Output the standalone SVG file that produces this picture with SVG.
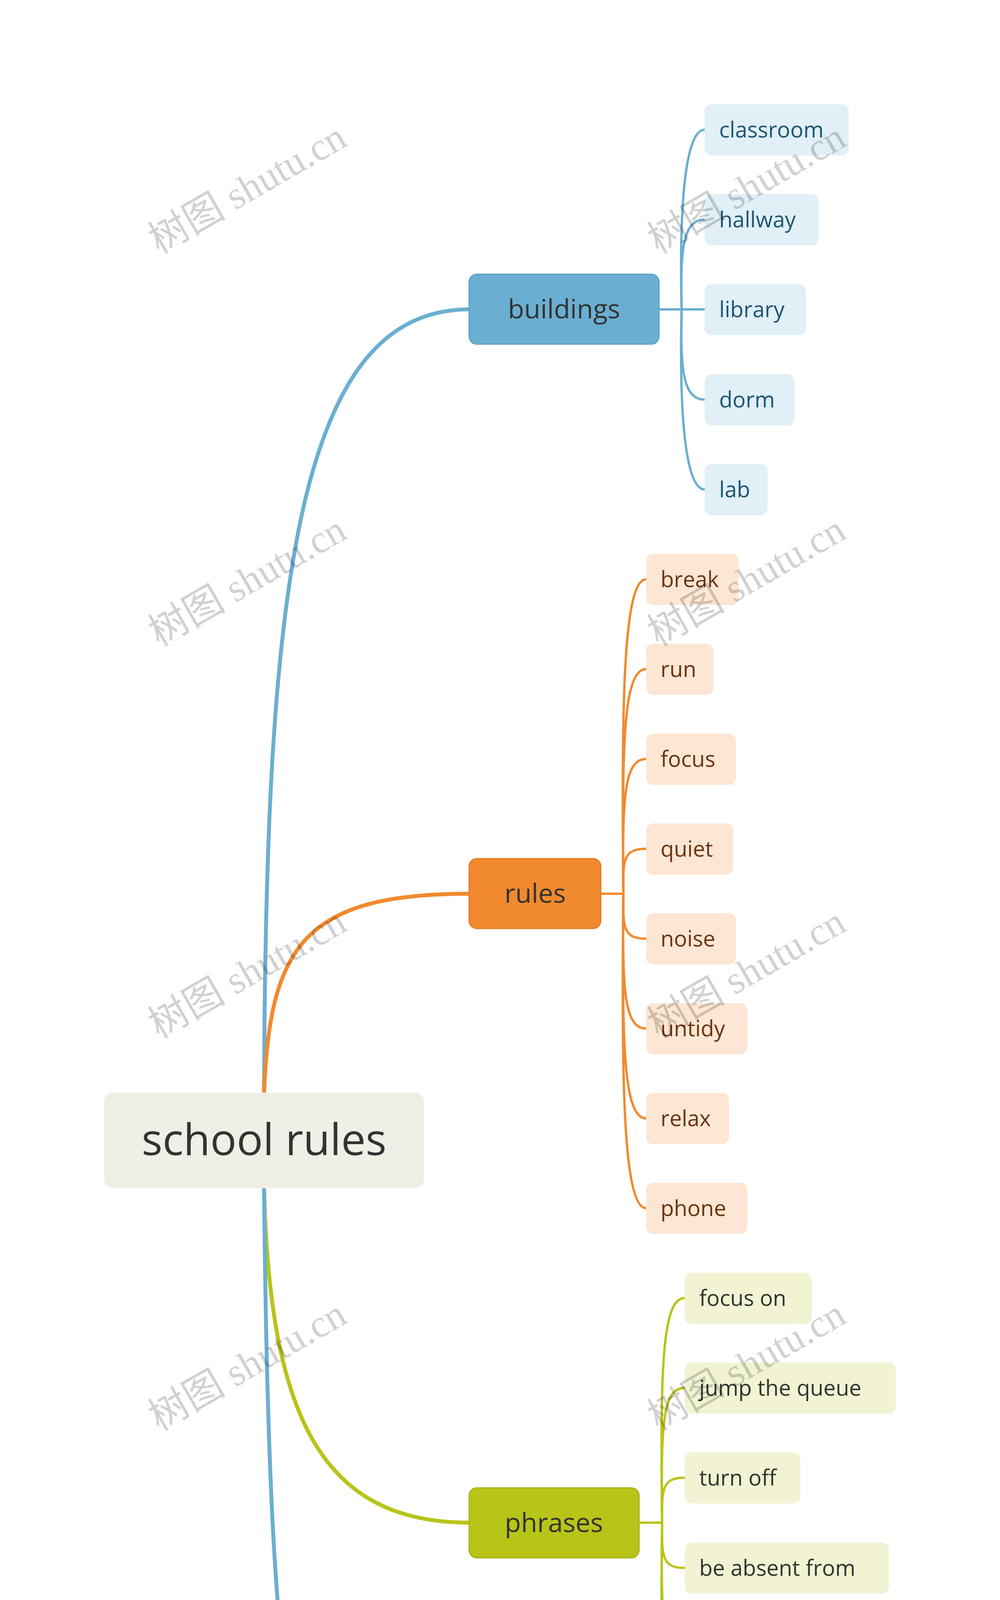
<svg xmlns="http://www.w3.org/2000/svg" width="2560" height="5727" viewBox="0 0 2560 5727">
<style>
.wm{font-family:"Liberation Serif","Noto Sans CJK SC",serif;font-size:100px;fill:#000;fill-opacity:0.18}
.t{font-family:"Open Sans","Noto Sans",sans-serif}
.lf{font-size:56px}
.mn{font-size:68px;fill:#333}
.c{fill:none;stroke-linecap:round}
.b{stroke:#6aafd1}.o{stroke:#f18a2e}.g{stroke:#b8c418}
.main{stroke-width:10}.sub{stroke-width:6}
.lb{fill:#e1eff6}.tb{fill:#1d5573}
.lo{fill:#fde6d4}.to{fill:#6a3410}
.lg{fill:#f1f3d3}.tg{fill:#333}
</style>
<rect width="2560" height="5727" fill="#fff"/>
<g id="connectors">
<path class="c b main" d="M676 2800 C680 1500 760 792 1201 792"/>
<path class="c o main" d="M676 2800 C690 2420 780 2288 1201 2288"/>
<path class="c g main" d="M676 3040 C690 3620 820 3898 1201 3898"/>
<path class="c b main" d="M676 3040 C690 4500 760 5048 1201 5048"/>
<g class="c b sub">
<path d="M1687 792 H1745"/>
<path d="M1745 792 C1740 600 1745 332 1804 332"/>
<path d="M1745 792 C1742 650 1745 562 1804 562"/>
<path d="M1745 792 H1804"/>
<path d="M1745 792 C1742 934 1745 1023 1804 1023"/>
<path d="M1745 792 C1740 984 1745 1253 1804 1253"/>
</g>
<g class="c o sub">
<path d="M1538 2288 H1596"/>
<path d="M1596 2288 C1590 1800 1596 1483 1654 1483"/>
<path d="M1596 2288 C1592 1900 1596 1713 1654 1713"/>
<path d="M1596 2288 C1593 2050 1596 1943 1654 1943"/>
<path d="M1596 2288 C1594 2200 1596 2173 1654 2173"/>
<path d="M1596 2288 C1594 2376 1596 2403 1654 2403"/>
<path d="M1596 2288 C1593 2526 1596 2633 1654 2633"/>
<path d="M1596 2288 C1592 2676 1596 2863 1654 2863"/>
<path d="M1596 2288 C1590 2776 1596 3093 1654 3093"/>
</g>
<g class="c g sub">
<path d="M1636 3898 H1695"/>
<path d="M1695 3898 C1690 3500 1695 3323 1753 3323"/>
<path d="M1695 3898 C1692 3650 1695 3553 1753 3553"/>
<path d="M1695 3898 C1694 3810 1695 3783 1753 3783"/>
<path d="M1695 3898 C1694 3985 1695 4014 1753 4014"/>
<path d="M1695 3898 C1692 4146 1695 4244 1753 4244"/>
<path d="M1695 3898 C1690 4296 1695 4474 1753 4474"/>
</g>
<g class="c b sub">
<path d="M1640 5048 H1698"/>
<path d="M1698 5048 C1694 4800 1698 4704 1756 4704"/>
<path d="M1698 5048 C1696 4960 1698 4934 1756 4934"/>
<path d="M1698 5048 C1696 5136 1698 5164 1756 5164"/>
<path d="M1698 5048 C1694 5296 1698 5394 1756 5394"/>
</g>
</g>
<g id="root"><rect x="267" y="2797" width="818" height="245" rx="22" fill="#efefe6"/><text class="t" x="676" y="2957" font-size="112" fill="#333" text-anchor="middle">school rules</text></g>
<g id="buildings"><rect x="1201" y="702" width="486" height="179" rx="20" fill="#6aafd1" stroke="#5b9fc2" stroke-width="3"/><text class="t mn" x="1444" y="815" text-anchor="middle">buildings</text></g>
<g id="rules"><rect x="1201" y="2198" width="337" height="179" rx="20" fill="#f18a2e" stroke="#e07c22" stroke-width="3"/><text class="t mn" x="1370" y="2311" text-anchor="middle">rules</text></g>
<g id="phrases"><rect x="1201" y="3809" width="435" height="179" rx="20" fill="#b8c418" stroke="#a8b310" stroke-width="3"/><text class="t mn" x="1418" y="3922" text-anchor="middle">phrases</text></g>
<g id="feelings"><rect x="1201" y="4959" width="439" height="179" rx="20" fill="#6aafd1" stroke="#5b9fc2" stroke-width="3"/><text class="t mn" x="1420" y="5072" text-anchor="middle">feelings</text></g>
<g id="classroom"><rect class="lb" x="1804" y="267" width="369" height="131" rx="18"/><text class="t lf tb" x="1841" y="352">classroom</text></g>
<g id="hallway"><rect class="lb" x="1804" y="497" width="292" height="131" rx="18"/><text class="t lf tb" x="1841" y="582">hallway</text></g>
<g id="library"><rect class="lb" x="1804" y="727" width="259" height="131" rx="18"/><text class="t lf tb" x="1841" y="812">library</text></g>
<g id="dorm"><rect class="lb" x="1804" y="958" width="230" height="131" rx="18"/><text class="t lf tb" x="1841" y="1043">dorm</text></g>
<g id="lab"><rect class="lb" x="1804" y="1188" width="161" height="131" rx="18"/><text class="t lf tb" x="1841" y="1273">lab</text></g>
<g id="break"><rect class="lo" x="1654" y="1418" width="237" height="131" rx="18"/><text class="t lf to" x="1691" y="1503">break</text></g>
<g id="run"><rect class="lo" x="1654" y="1648" width="172" height="131" rx="18"/><text class="t lf to" x="1691" y="1733">run</text></g>
<g id="focus"><rect class="lo" x="1654" y="1878" width="230" height="131" rx="18"/><text class="t lf to" x="1691" y="1963">focus</text></g>
<g id="quiet"><rect class="lo" x="1654" y="2108" width="223" height="131" rx="18"/><text class="t lf to" x="1691" y="2193">quiet</text></g>
<g id="noise"><rect class="lo" x="1654" y="2338" width="230" height="131" rx="18"/><text class="t lf to" x="1691" y="2423">noise</text></g>
<g id="untidy"><rect class="lo" x="1654" y="2568" width="259" height="131" rx="18"/><text class="t lf to" x="1691" y="2653">untidy</text></g>
<g id="relax"><rect class="lo" x="1654" y="2798" width="212" height="131" rx="18"/><text class="t lf to" x="1691" y="2883">relax</text></g>
<g id="phone"><rect class="lo" x="1654" y="3028" width="259" height="131" rx="18"/><text class="t lf to" x="1691" y="3113">phone</text></g>
<g id="focus-on"><rect class="lg" x="1753" y="3258" width="325" height="131" rx="18"/><text class="t lf tg" x="1790" y="3343">focus on</text></g>
<g id="jump-the-queue"><rect class="lg" x="1753" y="3488" width="540" height="131" rx="18"/><text class="t lf tg" x="1790" y="3573">jump the queue</text></g>
<g id="turn-off"><rect class="lg" x="1753" y="3718" width="296" height="131" rx="18"/><text class="t lf tg" x="1790" y="3803">turn off</text></g>
<g id="be-absent-from"><rect class="lg" x="1753" y="3949" width="522" height="131" rx="18"/><text class="t lf tg" x="1790" y="4034">be absent from</text></g>
<g id="hang-out"><rect class="lg" x="1753" y="4179" width="340" height="131" rx="18"/><text class="t lf tg" x="1790" y="4264">hang out</text></g>
<g id="make-the-bed"><rect class="lg" x="1753" y="4409" width="478" height="131" rx="18"/><text class="t lf tg" x="1790" y="4494">make the bed</text></g>
<g id="unhappy"><rect class="lb" x="1756" y="4639" width="332" height="131" rx="18"/><text class="t lf tb" x="1793" y="4724">unhappy</text></g>
<g id="spirit"><rect class="lb" x="1756" y="4869" width="219" height="131" rx="18"/><text class="t lf tb" x="1793" y="4954">spirit</text></g>
<g id="polite"><rect class="lb" x="1756" y="5099" width="241" height="131" rx="18"/><text class="t lf tb" x="1793" y="5184">polite</text></g>
<g id="awful"><rect class="lb" x="1756" y="5329" width="230" height="131" rx="18"/><text class="t lf tb" x="1793" y="5414">awful</text></g>
<g id="watermarks">
<text class="wm" transform="translate(650 511) rotate(-30)" text-anchor="middle">树图 shutu.cn</text>
<text class="wm" transform="translate(1928 511) rotate(-30)" text-anchor="middle">树图 shutu.cn</text>
<text class="wm" transform="translate(650 1516) rotate(-30)" text-anchor="middle">树图 shutu.cn</text>
<text class="wm" transform="translate(1928 1516) rotate(-30)" text-anchor="middle">树图 shutu.cn</text>
<text class="wm" transform="translate(650 2520) rotate(-30)" text-anchor="middle">树图 shutu.cn</text>
<text class="wm" transform="translate(1928 2520) rotate(-30)" text-anchor="middle">树图 shutu.cn</text>
<text class="wm" transform="translate(650 3524) rotate(-30)" text-anchor="middle">树图 shutu.cn</text>
<text class="wm" transform="translate(1928 3524) rotate(-30)" text-anchor="middle">树图 shutu.cn</text>
<text class="wm" transform="translate(650 4528) rotate(-30)" text-anchor="middle">树图 shutu.cn</text>
<text class="wm" transform="translate(1928 4528) rotate(-30)" text-anchor="middle">树图 shutu.cn</text>
<text class="wm" transform="translate(650 5533) rotate(-30)" text-anchor="middle">树图 shutu.cn</text>
<text class="wm" transform="translate(1928 5533) rotate(-30)" text-anchor="middle">树图 shutu.cn</text>
</g>
</svg>
